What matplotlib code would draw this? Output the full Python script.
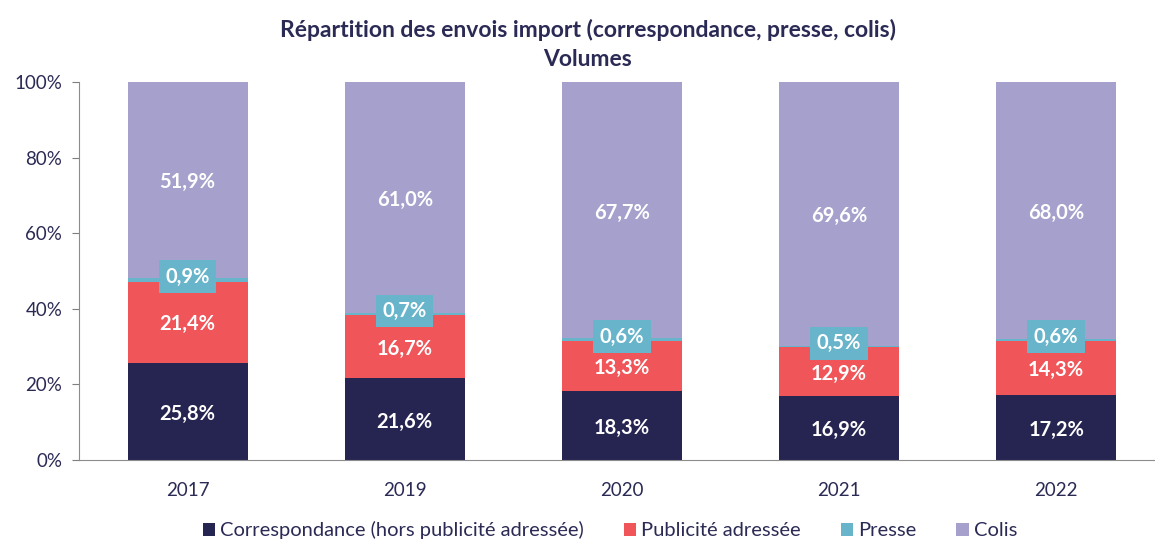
import matplotlib.pyplot as plt
import numpy as np

plt.rcParams['font.family'] = ['Lato', 'DejaVu Sans']

years = ['2017', '2019', '2020', '2021', '2022']
correspondance = [25.8, 21.6, 18.3, 16.9, 17.2]
publicite = [21.4, 16.7, 13.3, 12.9, 14.3]
presse = [0.9, 0.7, 0.6, 0.5, 0.6]
colis = [51.9, 61.0, 67.7, 69.6, 68.0]

series = [
    ('Correspondance (hors publicité adressée)', correspondance, '#262451'),
    ('Publicité adressée', publicite, '#EF5559'),
    ('Presse', presse, '#68B4CB'),
    ('Colis', colis, '#A5A1CC'),
]
text_col = '#2B2A55'

fig = plt.figure(figsize=(11.55, 5.4), dpi=100)
ax = fig.add_axes([0.0684, 0.148, 0.94, 0.70])

x = np.arange(len(years))
bottom = np.zeros(len(years))
for name, vals, col in series:
    vals = np.array(vals)
    ax.bar(x, vals, 0.553, bottom=bottom, color=col, label=name, zorder=2)
    for xi, b, v in zip(x, bottom, vals):
        lbl = f"{v:.1f}%".replace('.', ',')
        if name == 'Presse':
            ax.text(xi, b + v / 2 + 0.8, lbl, ha='center', va='center', color='white',
                    fontsize=14.5, fontweight='bold', zorder=3,
                    bbox=dict(boxstyle='square,pad=0.32', fc=col, ec='none'))
        else:
            ax.text(xi, b + v / 2 - 0.6, lbl, ha='center', va='center', color='white',
                    fontsize=14.5, fontweight='bold', zorder=3)
    bottom += vals

ax.set_xlim(-0.5, len(years) - 0.5)
ax.set_ylim(0, 100)
ax.set_xticks(x)
ax.set_xticklabels(years)
ax.set_yticks(range(0, 101, 20))
ax.set_yticklabels([f"{t}%" for t in range(0, 101, 20)])
ax.tick_params(axis='both', colors='#7F7F7F', labelcolor=text_col, labelsize=13.5, length=5)
ax.tick_params(axis='y', pad=7)
ax.tick_params(axis='x', length=0, pad=16)
for s in ['top', 'right']:
    ax.spines[s].set_visible(False)
ax.spines['left'].set_color('#8C8C8C')
ax.spines['bottom'].set_color('#8C8C8C')

fig.text(0.509, 0.945, 'Répartition des envois import (correspondance, presse, colis)',
         ha='center', va='center', fontsize=16.5, fontweight='bold', color=text_col)
fig.text(0.509, 0.889, 'Volumes', ha='center', va='center', fontsize=16.5,
         fontweight='bold', color=text_col)

fig.legend(loc='center', bbox_to_anchor=(0.528, 0.018), ncol=4, frameon=False,
           fontsize=14.5, handlelength=0.6, handleheight=0.6, handletextpad=0.25,
           columnspacing=2.0, labelcolor=text_col)

fig.savefig('out.png', dpi=100)
